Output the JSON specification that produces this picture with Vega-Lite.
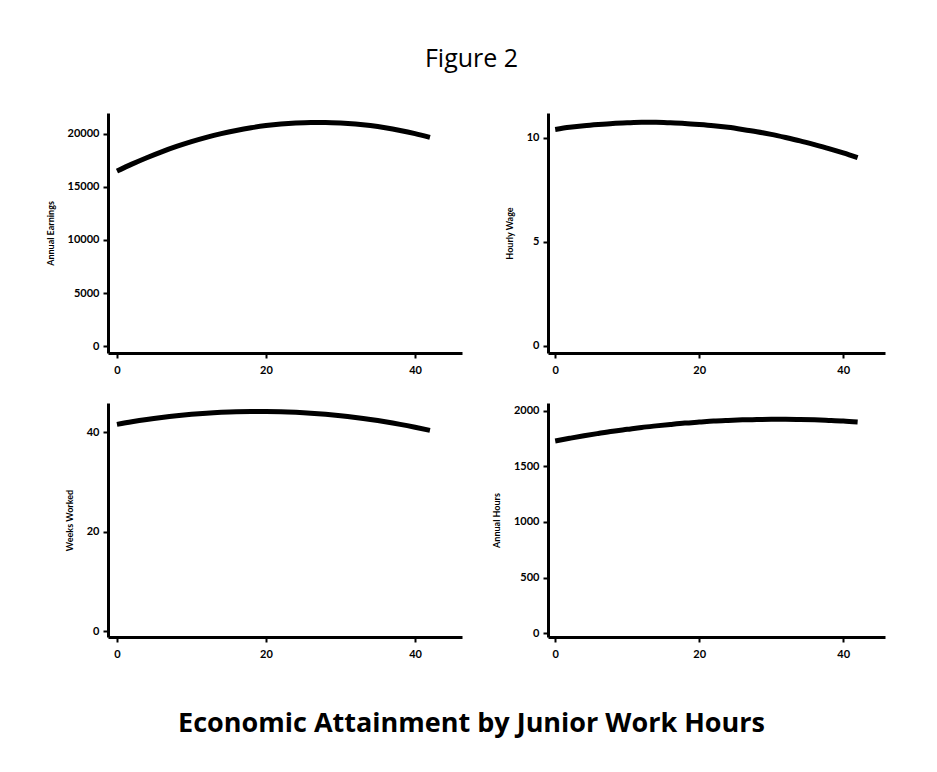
{
  "$schema": "https://vega.github.io/schema/vega-lite/v6.json",
  "background": "white",
  "padding": {"left": 46, "top": 47, "right": 40, "bottom": 10},
  "title": {"text": "Figure 2", "anchor": "middle", "font": "Open Sans", "fontSize": 25, "fontWeight": "normal", "color": "black", "offset": 40, "dx": 6},
  "datasets": {
    "curves": [
      {"hours": 0, "earnings": 16500, "wage": 10.41, "weeks": 41.6, "annual": 1730},
      {"hours": 2, "earnings": 17156, "wage": 10.51, "weeks": 42.12, "annual": 1754},
      {"hours": 4, "earnings": 17762, "wage": 10.59, "weeks": 42.58, "annual": 1777},
      {"hours": 6, "earnings": 18317, "wage": 10.65, "weeks": 42.98, "annual": 1798},
      {"hours": 8, "earnings": 18822, "wage": 10.70, "weeks": 43.33, "annual": 1818},
      {"hours": 10, "earnings": 19276, "wage": 10.73, "weeks": 43.62, "annual": 1835},
      {"hours": 12, "earnings": 19680, "wage": 10.75, "weeks": 43.85, "annual": 1852},
      {"hours": 14, "earnings": 20034, "wage": 10.75, "weeks": 44.02, "annual": 1866},
      {"hours": 16, "earnings": 20336, "wage": 10.73, "weeks": 44.14, "annual": 1879},
      {"hours": 18, "earnings": 20589, "wage": 10.70, "weeks": 44.19, "annual": 1891},
      {"hours": 20, "earnings": 20791, "wage": 10.65, "weeks": 44.19, "annual": 1900},
      {"hours": 22, "earnings": 20942, "wage": 10.59, "weeks": 44.14, "annual": 1909},
      {"hours": 24, "earnings": 21043, "wage": 10.51, "weeks": 44.02, "annual": 1915},
      {"hours": 26, "earnings": 21094, "wage": 10.41, "weeks": 43.85, "annual": 1920},
      {"hours": 28, "earnings": 21094, "wage": 10.30, "weeks": 43.62, "annual": 1923},
      {"hours": 30, "earnings": 21043, "wage": 10.17, "weeks": 43.33, "annual": 1925},
      {"hours": 32, "earnings": 20942, "wage": 10.02, "weeks": 42.98, "annual": 1925},
      {"hours": 34, "earnings": 20791, "wage": 9.86, "weeks": 42.58, "annual": 1923},
      {"hours": 36, "earnings": 20589, "wage": 9.68, "weeks": 42.12, "annual": 1920},
      {"hours": 38, "earnings": 20336, "wage": 9.49, "weeks": 41.6, "annual": 1915},
      {"hours": 40, "earnings": 20034, "wage": 9.28, "weeks": 41.02, "annual": 1909},
      {"hours": 42, "earnings": 19680, "wage": 9.05, "weeks": 40.39, "annual": 1900}
    ]
  },
  "vconcat": [
    {
      "title": {"text": "Economic Attainment by Junior Work Hours", "orient": "bottom", "anchor": "middle", "font": "Open Sans", "fontSize": 27, "fontWeight": "bold", "color": "black", "offset": 52, "dx": 6},
      "bounds": "flush",
      "columns": 2,
      "spacing": {"row": 50, "column": 86},
      "concat": [
        {
          "width": 354, "height": 240,
          "data": {"name": "curves"},
          "mark": {"type": "line", "color": "black", "strokeWidth": 5, "interpolate": "monotone"},
          "encoding": {
            "x": {"field": "hours", "type": "quantitative", "scale": {"domain": [-1.2, 46.3], "nice": false, "zero": false}, "axis": {"values": [0, 20, 40], "title": null}},
            "y": {"field": "earnings", "type": "quantitative", "scale": {"domain": [-660, 21980], "nice": false, "zero": false}, "axis": {"values": [0, 5000, 10000, 15000, 20000], "format": "d", "title": "Annual Earnings"}}
          }
        },
        {
          "width": 337, "height": 240,
          "data": {"name": "curves"},
          "mark": {"type": "line", "color": "black", "strokeWidth": 5, "interpolate": "monotone"},
          "encoding": {
            "x": {"field": "hours", "type": "quantitative", "scale": {"domain": [-1, 45.8], "nice": false, "zero": false}, "axis": {"values": [0, 20, 40], "title": null}},
            "y": {"field": "wage", "type": "quantitative", "scale": {"domain": [-0.34, 11.2], "nice": false, "zero": false}, "axis": {"values": [0, 5, 10], "format": "d", "title": "Hourly Wage"}}
          }
        },
        {
          "width": 354, "height": 234,
          "data": {"name": "curves"},
          "mark": {"type": "line", "color": "black", "strokeWidth": 5, "interpolate": "monotone"},
          "encoding": {
            "x": {"field": "hours", "type": "quantitative", "scale": {"domain": [-1.2, 46.3], "nice": false, "zero": false}, "axis": {"values": [0, 20, 40], "title": null}},
            "y": {"field": "weeks", "type": "quantitative", "scale": {"domain": [-1.2, 45.9], "nice": false, "zero": false}, "axis": {"values": [0, 20, 40], "format": "d", "title": "Weeks Worked"}}
          }
        },
        {
          "width": 337, "height": 234,
          "data": {"name": "curves"},
          "mark": {"type": "line", "color": "black", "strokeWidth": 5, "interpolate": "monotone"},
          "encoding": {
            "x": {"field": "hours", "type": "quantitative", "scale": {"domain": [-1, 45.8], "nice": false, "zero": false}, "axis": {"values": [0, 20, 40], "title": null}},
            "y": {"field": "annual", "type": "quantitative", "scale": {"domain": [-36, 2072], "nice": false, "zero": false}, "axis": {"values": [0, 500, 1000, 1500, 2000], "format": "d", "title": "Annual Hours"}}
          }
        }
      ]
    }
  ],
  "config": {
    "view": {"stroke": null},
    "axis": {
      "grid": false,
      "domainColor": "black", "domainWidth": 3,
      "tickColor": "black", "tickWidth": 2, "tickSize": 5,
      "labelFont": "Lato", "labelFontSize": 11, "labelFontWeight": "bold", "labelColor": "black", "labelFlush": false, "labelPadding": 4,
      "titleFont": "Lato", "titleFontSize": 9, "titleFontWeight": "bold", "titleColor": "black", "titlePadding": 12
    },
    "axisX": {"labelPadding": 6}
  }
}
